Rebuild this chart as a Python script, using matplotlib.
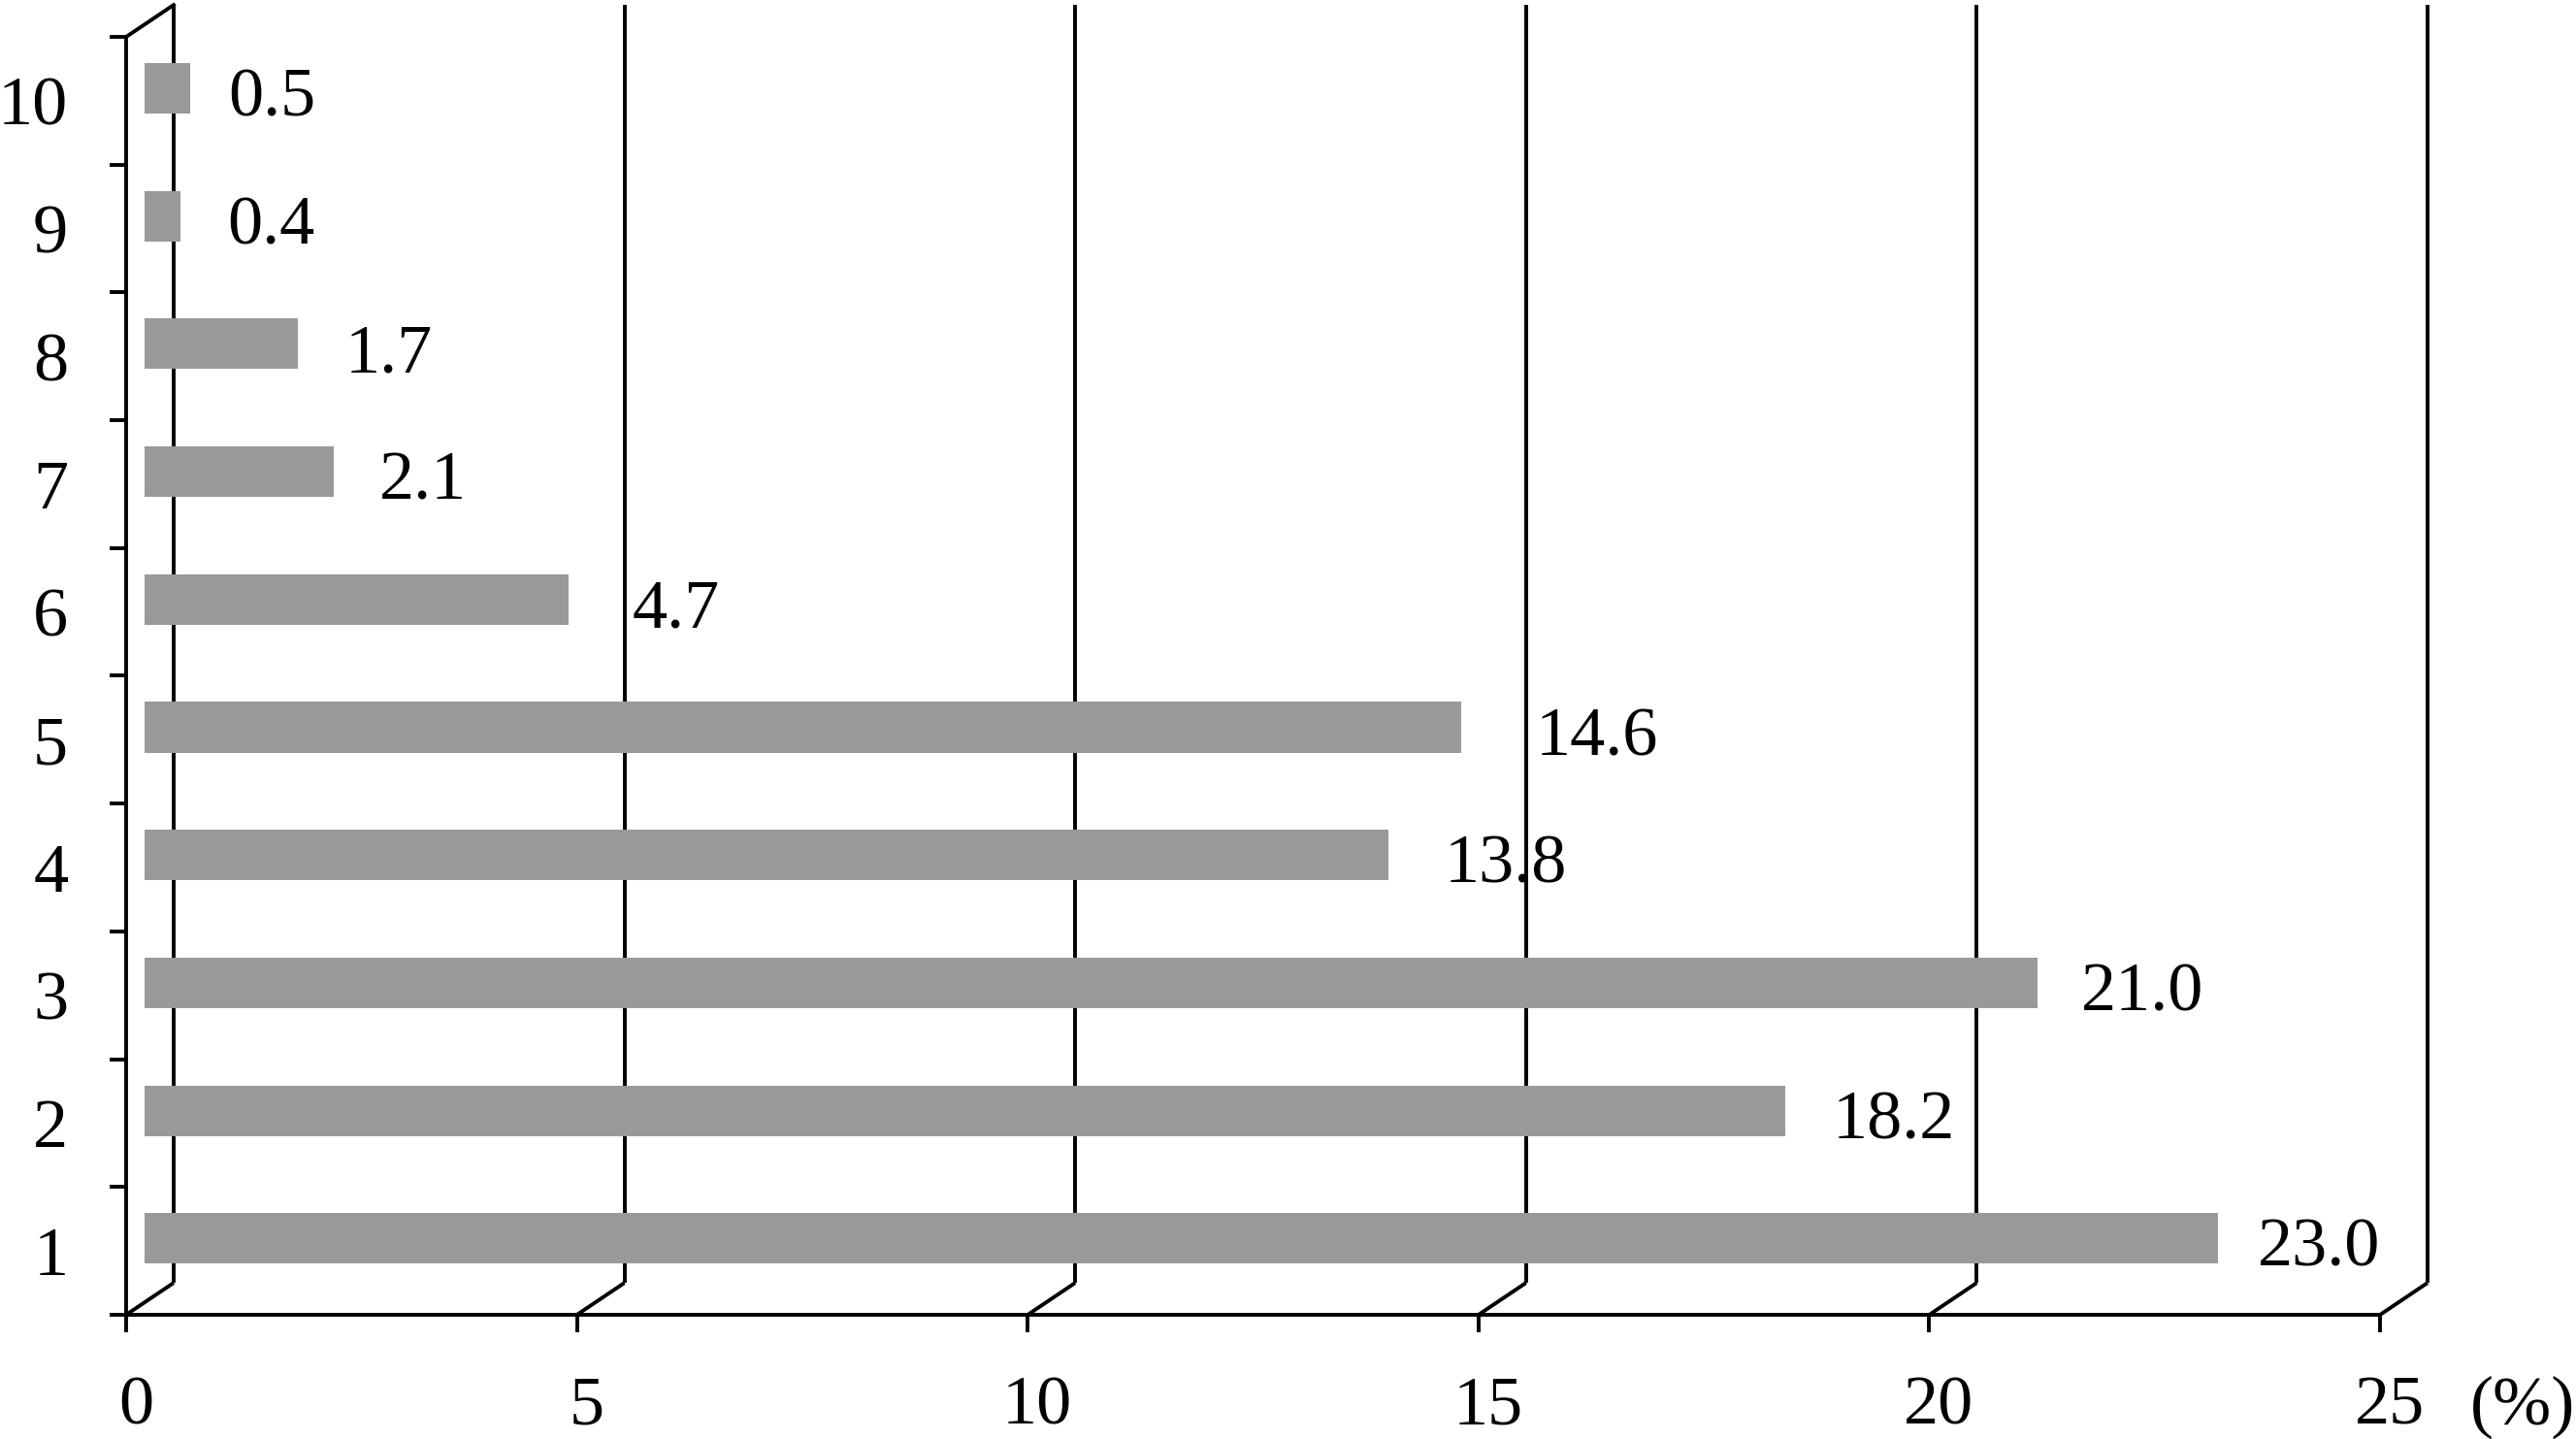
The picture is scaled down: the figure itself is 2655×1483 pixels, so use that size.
import numpy as np
import matplotlib
matplotlib.use('Agg')
import matplotlib.pyplot as plt
from matplotlib.transforms import ScaledTranslation

# data
categories = ['1', '2', '3', '4', '5', '6', '7', '8', '9', '10']
values = [23.0, 18.2, 21.0, 13.8, 14.6, 4.7, 2.1, 1.7, 0.4, 0.5]
x_ticks = [0, 5, 10, 15, 20, 25]

# label gap after each bar (x units), labels were nudged by hand in the original
label_gap = [0.44, 0.52, 0.48, 0.62, 0.83, 0.71, 0.50, 0.52, 0.52, 0.43]

plt.rcParams['font.family'] = ['Liberation Serif', 'DejaVu Serif']
plt.rcParams['font.size'] = 52

fig = plt.figure(figsize=(26.55, 14.83), dpi=100)
ax = fig.add_axes([130 / 2655, 128 / 1483, 2323 / 2655, 1317 / 1483])
ax.set_xlim(0, 25)
ax.set_ylim(0, 10)

lw = 2.8
# pseudo 3d depth, in data units
depth_x = 0.527
depth_y = 0.25
bar_frac = 0.39

for s in ['top', 'right']:
    ax.spines[s].set_visible(False)
for s in ['left', 'bottom']:
    ax.spines[s].set_linewidth(lw)

# back wall and floor lines
ax.vlines([depth_x + x for x in x_ticks], depth_y, 10 + depth_y,
          colors='black', lw=lw, clip_on=False, zorder=1)
for x in x_ticks:
    ax.plot([x, x + depth_x], [0, depth_y], color='black', lw=lw,
            clip_on=False, zorder=1, solid_capstyle='butt')
ax.plot([0, depth_x], [10, 10 + depth_y], color='black', lw=lw,
        clip_on=False, zorder=1)

# bars
pos = np.arange(len(categories)) + 0.5
bh = 0.395
ax.barh(pos + bar_frac * depth_y, values, height=bh,
        left=bar_frac * depth_x, color='#999999', zorder=3)

for p, v, g in zip(pos, values, label_gap):
    ax.text(bar_frac * depth_x + v + g, p + bar_frac * depth_y - bh / 2 - 0.02,
            f'{v:.1f}', ha='left', va='baseline', zorder=4)

# ticks
ax.set_xticks(x_ticks)
ax.set_xticklabels([str(t) for t in x_ticks])
ax.tick_params(axis='x', direction='out', length=13, width=lw, pad=32)
shift = ScaledTranslation(0.10, 0, fig.dpi_scale_trans)
for lab in ax.get_xticklabels():
    lab.set_transform(lab.get_transform() + shift)

ax.set_yticks(np.arange(0, 11))
ax.set_yticklabels([])
ax.set_yticks(pos, minor=True)
ax.set_yticklabels(categories, minor=True)
ax.tick_params(axis='y', which='major', direction='out', length=12.2, width=lw)
ax.tick_params(axis='y', which='minor', length=0, pad=43)

ax.annotate('(%)', xy=(25, 0), xycoords='data', xytext=(67, -81),
            textcoords='offset points', ha='left', va='baseline')

plt.savefig('out.png', dpi=100)
